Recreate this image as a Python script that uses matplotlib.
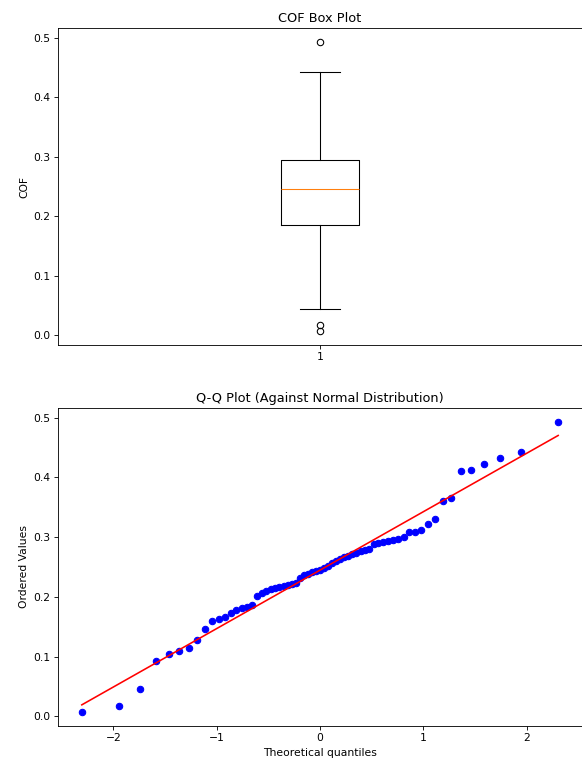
import numpy as np
import matplotlib; matplotlib.use("Agg")
import matplotlib.pyplot as plt
from statistics import NormalDist

# sorted COF samples
cof = [0.008, 0.018, 0.045, 0.092, 0.105, 0.109, 0.114, 0.127, 0.146, 0.159,
       0.163, 0.167, 0.173, 0.178, 0.181, 0.183, 0.186, 0.201, 0.206, 0.210,
       0.213, 0.215, 0.217, 0.218, 0.220, 0.221, 0.223, 0.232, 0.236, 0.239,
       0.241, 0.243, 0.245, 0.248, 0.252, 0.256, 0.260, 0.264, 0.266, 0.268,
       0.272, 0.274, 0.276, 0.278, 0.280, 0.289, 0.291, 0.292, 0.294, 0.295,
       0.297, 0.300, 0.309, 0.309, 0.312, 0.322, 0.331, 0.360, 0.365, 0.411,
       0.413, 0.423, 0.432, 0.442, 0.492]

y = np.sort(np.array(cof))
n = len(y)
# Filliben order statistic medians, as in scipy.stats.probplot
m = (np.arange(1, n + 1) - 0.3175) / (n + 0.365)
m[-1] = 0.5 ** (1.0 / n)
m[0] = 1 - m[-1]
osm = np.array([NormalDist().inv_cdf(p) for p in m])
slope, intercept = np.polyfit(osm, y, 1)

DPI = 77
fig = plt.figure(figsize=(582 / DPI, 764 / DPI), dpi=DPI)
ax1 = fig.add_axes([58/582, 419/764, 524/582, 317/764])
ax2 = fig.add_axes([58/582, 38/764, 524/582, 318/764])

ax1.boxplot(y)
ax1.set_title("COF Box Plot")
ax1.set_ylabel("COF")

ax2.plot(osm, y, "bo")
ax2.plot(osm, slope * osm + intercept, "r-")
ax2.set_title("Q-Q Plot (Against Normal Distribution)")
ax2.set_xlabel("Theoretical quantiles")
ax2.set_ylabel("Ordered Values")

fig.savefig("out.png", dpi=DPI)
